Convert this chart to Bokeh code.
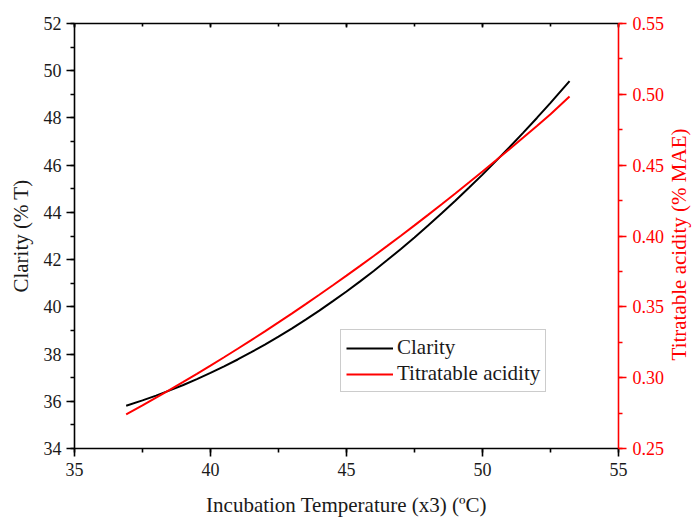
import math
from bokeh.plotting import figure
from bokeh.layouts import row
from bokeh.models import (Range1d, LinearAxis, SingleIntervalTicker, PrintfTickFormatter,
                          Legend, LegendItem)
from bokeh.core.properties import value
from bokeh.embed import file_html
from bokeh.resources import INLINE

# Data
temperature = [36.9, 37.5, 38, 38.5, 39, 39.5, 40, 40.5, 41, 41.5, 42, 42.5, 43, 43.5, 44, 44.5,
               45, 45.5, 46, 46.5, 47, 47.5, 48, 48.5, 49, 49.5, 50, 50.5, 51, 51.5, 52, 52.5, 53.2]
clarity = [35.81, 36.04, 36.24, 36.46, 36.69, 36.94, 37.20, 37.48, 37.77, 38.08, 38.40, 38.74,
           39.09, 39.46, 39.84, 40.24, 40.65, 41.08, 41.52, 41.98, 42.45, 42.94, 43.44, 43.96,
           44.49, 45.04, 45.60, 46.18, 46.77, 47.38, 48.00, 48.64, 49.56]
acidity = [0.2741, 0.2805, 0.2859, 0.2914, 0.2970, 0.3027, 0.3085, 0.3144, 0.3204, 0.3265,
           0.3327, 0.3390, 0.3454, 0.3519, 0.3585, 0.3652, 0.3720, 0.3789, 0.3859, 0.3930,
           0.4002, 0.4075, 0.4149, 0.4224, 0.4300, 0.4377, 0.4455, 0.4534, 0.4614, 0.4695,
           0.4777, 0.4860, 0.4985]

x_label = "Incubation Temperature (x3) (\u00baC)"
y_label = "Clarity (% T)"
y2_label = "Titratable acidity (% MAE)"

FONT = "Liberation Serif"
RED = "#FF0000"

p = figure(width=667, height=520, output_backend="svg", toolbar_location=None,
           x_range=Range1d(35, 55), y_range=Range1d(34, 52),
           min_border_left=74, min_border_right=47, min_border_top=23, min_border_bottom=72,
           x_axis_location=None, y_axis_location=None)
p.grid.visible = False
p.outline_line_color = None
p.background_fill_color = "white"
p.border_fill_color = "white"

p.extra_y_ranges = {"acid": Range1d(0.25, 0.55)}

def style_axis(ax, color):
    ax.axis_line_color = color
    ax.axis_line_width = 1.6
    ax.major_tick_line_color = color
    ax.minor_tick_line_color = color
    ax.major_tick_line_width = 1.6
    ax.minor_tick_line_width = 1.6
    ax.major_tick_out = 8
    ax.major_tick_in = 0
    ax.minor_tick_out = 4
    ax.minor_tick_in = 0
    ax.major_label_text_font = FONT
    ax.major_label_text_font_size = "18px"
    ax.major_label_text_color = "#1a1a1a" if color == "black" else color
    ax.axis_label_text_font = FONT
    ax.axis_label_text_font_size = "21px"
    ax.axis_label_text_font_style = "normal"
    ax.axis_label_text_color = "#1a1a1a" if color == "black" else color

xaxis = LinearAxis(ticker=SingleIntervalTicker(interval=5, num_minor_ticks=2), axis_label=x_label)
style_axis(xaxis, "black")
xaxis.major_label_standoff = 6
xaxis.axis_label_standoff = 14
p.add_layout(xaxis, "below")

yaxis = LinearAxis(ticker=SingleIntervalTicker(interval=2, num_minor_ticks=2), axis_label=y_label)
style_axis(yaxis, "black")
yaxis.major_label_standoff = 5
yaxis.axis_label_standoff = 8
p.add_layout(yaxis, "left")

y2axis = LinearAxis(y_range_name="acid", ticker=SingleIntervalTicker(interval=0.05, num_minor_ticks=2),
                    formatter=PrintfTickFormatter(format="%.2f"))
style_axis(y2axis, RED)
y2axis.major_label_standoff = 6
p.add_layout(y2axis, "right")

topaxis = LinearAxis(ticker=SingleIntervalTicker(interval=5, num_minor_ticks=2))
style_axis(topaxis, "black")
topaxis.major_tick_out = 0
topaxis.major_tick_in = 4
topaxis.minor_tick_out = 0
topaxis.minor_tick_in = 3
topaxis.major_label_text_font_size = "0px"
topaxis.major_label_text_color = None
p.add_layout(topaxis, "above")

r1 = p.line(temperature, clarity, line_color="black", line_width=2)
r2 = p.line(temperature, acidity, line_color=RED, line_width=2, y_range_name="acid")

legend = Legend(items=[LegendItem(label="Clarity", renderers=[r1]),
                       LegendItem(label="Titratable acidity", renderers=[r2])],
                location=(266, 56))
legend.label_text_font = FONT
legend.label_text_font_size = "21px"
legend.label_text_color = "#1a1a1a"
legend.glyph_width = 47
legend.glyph_height = 18
legend.label_height = 18
legend.label_standoff = 4
legend.spacing = 1
legend.padding = 5
legend.margin = 0
legend.border_line_color = "#9a9a9a"
legend.border_line_width = 1
legend.background_fill_color = "white"
legend.background_fill_alpha = 1
p.add_layout(legend, "center")

# narrow strip on the right carrying the right-hand axis title (reads bottom to top)
t = figure(width=26, height=520, output_backend="svg", toolbar_location=None,
           x_range=Range1d(0, 1), y_range=Range1d(0, 1), min_border=0,
           x_axis_location=None, y_axis_location=None)
t.grid.visible = False
t.outline_line_color = None
t.background_fill_color = "white"
t.border_fill_color = "white"
t.text(x=[0.45], y=[0.48], text=[y2_label], angle=math.pi / 2, text_align="center",
       text_baseline="middle", text_font=value(FONT), text_font_size="21px", text_color=RED)

layout = row(p, t, spacing=0)
open("out.html", "w").write(file_html(layout, INLINE))
